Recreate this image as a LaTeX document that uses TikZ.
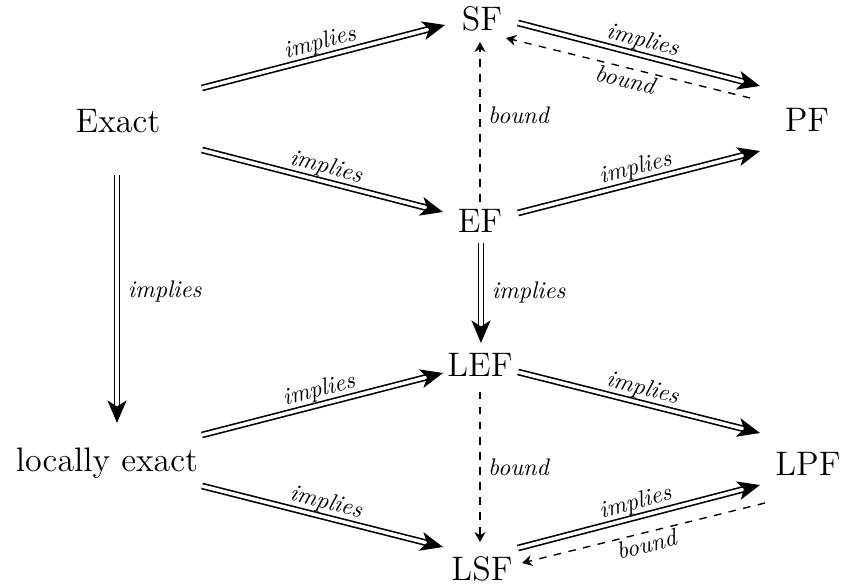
\documentclass[tikz,border=0pt]{standalone}
\usetikzlibrary{arrows.meta,calc}
\begin{document}
\begin{tikzpicture}[x=0.4pt,y=-0.4pt,
  obj/.style={anchor=base, inner sep=0pt, font=\fontsize{13.6}{16}\selectfont},
  imp/.style={double, line width=0.65pt, double distance=1.4pt, -{Stealth[length=9pt,width=7.6pt,inset=2.4pt]}},
  bnd/.style={dashed, line width=0.55pt, -{Stealth[length=4pt,width=4.4pt]}},
  lab/.style={font=\fontsize{9.6}{11}\selectfont\itshape, inner sep=1pt},
]
\useasboundingbox (0,0) rectangle (851,584);
\node[obj] (SF) at (482,31) {SF};
\node[obj] (PF) at (807,132) {PF};
\node[obj] (Exact) at (118,133) {Exact};
\node[obj] (EF) at (480,233) {EF};
\node[obj] (LEF) at (480,377) {LEF};
\node[obj] (loc) at (107,472) {locally exact};
\node[obj] (LPF) at (808,476) {LPF};
\node[obj] (LSF) at (482,580) {LSF};

\draw[imp] ($(Exact.base)+(84,-45)$) -- node[lab,above,sloped]{implies} ($(SF.base)+(-37,-6)$);
\draw[imp] ($(Exact.base)+(84,17)$) -- node[lab,above,sloped]{implies} ($(EF.base)+(-37,-21)$);
\draw[imp] ($(Exact.base)+(-1,42)$) -- node[lab,right,inner sep=4pt,pos=0.47]{implies} ($(loc.base)+(10,-49)$);
\draw[imp] ($(SF.base)+(36,-8)$) -- node[lab,above,sloped]{implies} ($(PF.base)+(-47,-46)$);
\draw[bnd] ($(PF.base)+(-57,-34)$) -- node[lab,below,sloped]{bound} ($(SF.base)+(24,7)$);
\draw[bnd] ($(EF.base)+(0,-31)$) -- node[lab,right,inner sep=3pt,pos=0.54]{bound} ($(SF.base)+(-2,11)$);
\draw[imp] ($(EF.base)+(38,-20)$) -- node[lab,above,sloped]{implies} ($(PF.base)+(-47,19)$);
\draw[imp] ($(EF.base)+(1,10)$) -- node[lab,right,inner sep=4pt]{implies} ($(LEF.base)+(1,-34)$);
\draw[imp] ($(LEF.base)+(38,-5)$) -- node[lab,above,sloped]{implies} ($(LPF.base)+(-48,-43)$);
\draw[bnd] ($(LEF.base)+(0,15)$) -- node[lab,right,inner sep=3pt]{bound} ($(LSF.base)+(-2,-38)$);
\draw[imp] ($(loc.base)+(95,-37)$) -- node[lab,above,sloped]{implies} ($(LEF.base)+(-37,-4)$);
\draw[imp] ($(loc.base)+(95,14)$) -- node[lab,above,sloped]{implies} ($(LSF.base)+(-39,-33)$);
\draw[imp] ($(LSF.base)+(36,-32)$) -- node[lab,above,sloped]{implies} ($(LPF.base)+(-48,9)$);
\draw[bnd] ($(LPF.base)+(-43,27)$) -- node[lab,below,sloped]{bound} ($(LSF.base)+(40,-17)$);
\end{tikzpicture}
\end{document}
